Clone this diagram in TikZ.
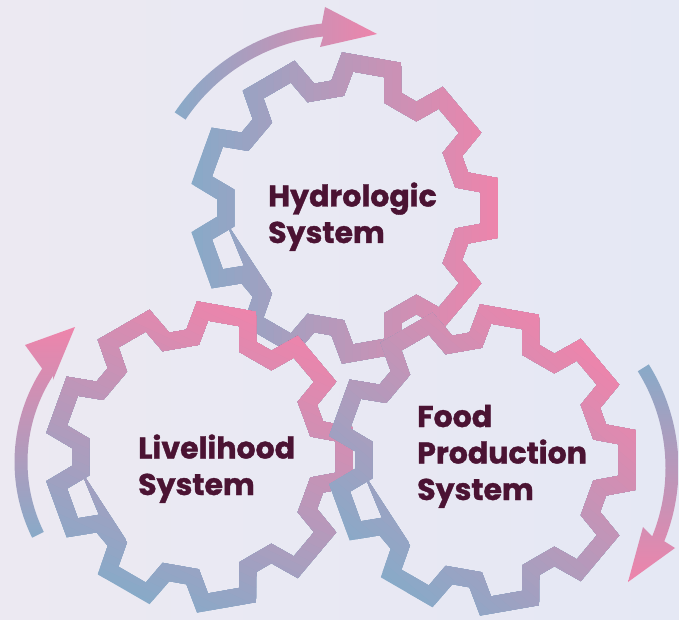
\documentclass[tikz,border=0pt]{standalone}
\usepackage{fontspec}
\setmainfont{Poppins}[BoldFeatures={FakeBold=1.2}]
\usetikzlibrary{positioning}

\definecolor{gearblue}{HTML}{88AAC8}
\definecolor{gearpink}{HTML}{EE84AB}
\definecolor{labelred}{HTML}{4B1333}
\definecolor{bgleft}{HTML}{ECE9F2}
\definecolor{bgright}{HTML}{E5E8F4}

% outline of one gear, nine teeth, centred on the origin
\newcommand{\gearpath}{(-13.5:120) \foreach \k in {0,40,...,280}{ -- (\k-9:146) -- (\k+9:146) -- (\k+13.5:120) -- (\k+26.5:120)} -- (311:146) -- (329:146) -- (333.5:120) -- cycle}
\newcommand{\gearwedge}{(186.5:120) -- (228:111) -- (228:128) -- cycle}

% gear at #1, colour running blue to pink along angle #2
\newcommand{\geardraw}[2]{%
  \foreach \i in {0,...,39}{
    \pgfmathtruncatemacro\shadepc{100*\i/39}
    \begin{scope}[shift={#1}]
      \clip[rotate=#2] (-158+7.9*\i,-175) rectangle (175,175);
      \draw[gear line, gearpink!\shadepc!gearblue] \gearpath;
      \fill[gearpink!\shadepc!gearblue] \gearwedge;
    \end{scope}
  }}

\begin{document}
\begin{tikzpicture}[x=1pt, y=1pt,
  gear line/.style={line width=17pt, line join=miter, miter limit=10},
  gear label/.style={font=\fontsize{30}{36.5}\selectfont\bfseries, text=labelred, align=left, inner sep=0pt, anchor=base west}]
 \useasboundingbox (0,0) rectangle (679,619);
 \shade[left color=bgleft, right color=bgright] (0,0) rectangle (679,619);

 % turning arrows
 \shade[left color=gearblue, right color=gearpink, shift={(343,394)}] (146.2:202.5) arc[start angle=146.2, end angle=96, radius=202.5] -- (-18,218) -- (34,191) -- (-23,178) -- (96:189.5) arc[start angle=96, end angle=146.2, radius=189.5] -- cycle;
 \shade[bottom color=gearblue, top color=gearpink, shift={(186,157)}] (206.2:158.5) arc[start angle=206.2, end angle=147, radius=158.5] -- (-133,82) -- (-111,135) -- (-161,117) -- (147:171.5) arc[start angle=147, end angle=206.2, radius=171.5] -- cycle;
 \shade[top color=gearblue, bottom color=gearpink, shift={(483,151)}] (32:182.5) arc[start angle=32, end angle=-22, radius=182.5] -- (160,-59) -- (145,-114) -- (192,-80) -- (-22:195.5) arc[start angle=-22, end angle=32, radius=195.5] -- cycle;

 % gears
 \geardraw{(345,411)}{0}
 \geardraw{(200,162)}{65}
 \geardraw{(483,159)}{50}

 % the last line of each label sits on the given point
 \node[gear label] (hydro) at (268,376) {Hydrologic\\System};
 \node[gear label] (live) at (138,124) {Livelihood\\System};
 \node[gear label] (food) at (417,119) {Food\\Production\\System};
\end{tikzpicture}
\end{document}
